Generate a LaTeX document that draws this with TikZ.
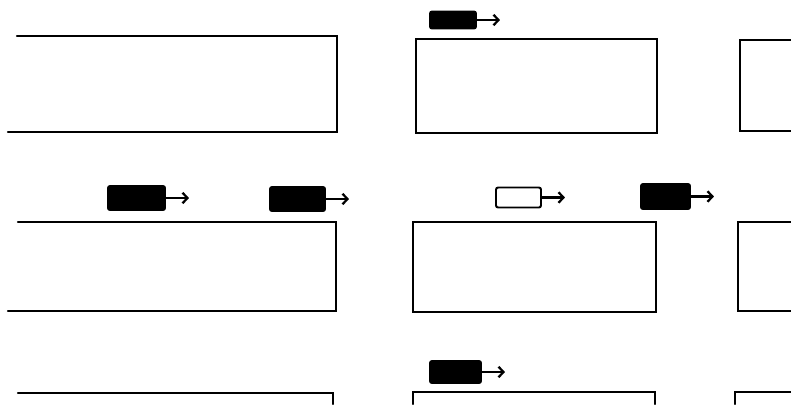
\documentclass[tikz,border=0pt]{standalone}
\usepackage{tikz}
\usetikzlibrary{arrows.meta}
\tikzset{
  block/.style={line width=1.7pt, line cap=round, line join=miter},
  car/.style={draw, fill=black, rounded corners=1.5pt, inner sep=0pt, line width=1.4pt},
  emptycar/.style={car, fill=white},
  carsize/.style 2 args={minimum width=#1*0.025cm, minimum height=#2*0.025cm},
  drive/.style={line width=1.6pt, -{Straight Barb[length=3.5pt, width=7.5pt, line width=1.6pt]}}
}
\begin{document}
\begin{tikzpicture}[x=0.025cm, y=-0.025cm]
  \useasboundingbox (0,0) rectangle (791,404);
  % blocks, left column (open towards the left edge)
  \draw[block] (17,36) -- (337,36) -- (337,132) -- (8,132);
  \draw[block] (18,222) -- (336,222) -- (336,311) -- (8,311);
  \draw[block] (18,393) -- (333,393) -- (333,404);
  % blocks, middle column
  \draw[block] (416,39) rectangle (657,133);
  \draw[block] (413,222) rectangle (656,312);
  \draw[block] (413,404) -- (413,392) -- (655,392) -- (655,404);
  % blocks, right column (open towards the right edge)
  \draw[block] (791,40) -- (740,40) -- (740,131) -- (791,131);
  \draw[block] (791,222) -- (738,222) -- (738,311) -- (791,311);
  \draw[block] (791,392) -- (735,392) -- (735,404);
  % cars
  \node[car, carsize={46}{17}] (carTop) at (453,20) {};
  \node[car, carsize={57}{24}] (carA) at (136.5,198) {};
  \node[car, carsize={55}{24}] (carB) at (297.5,199) {};
  \node[emptycar, carsize={45}{20}] (carC) at (518.5,197.5) {};
  \node[car, carsize={49}{25}] (carD) at (665.5,196.5) {};
  \node[car, carsize={51}{22}] (carBot) at (455.5,372) {};
  \foreach \c in {carTop,carA,carB,carC,carD,carBot}
    \draw[drive] (\c.east) -- ++(23,0);
\end{tikzpicture}
\end{document}
